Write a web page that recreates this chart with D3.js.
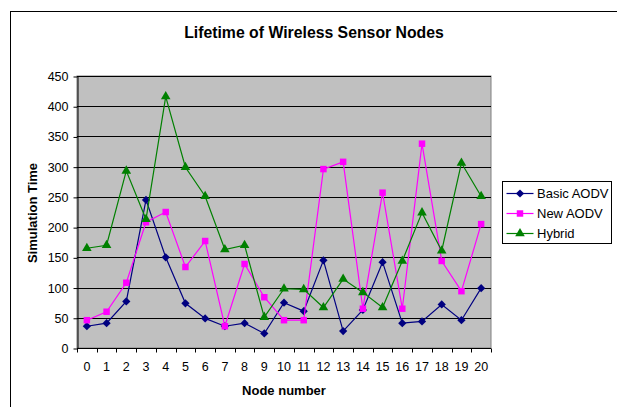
<!doctype html>
<html>
<head>
<meta charset="utf-8">
<script src="https://d3js.org/d3.v7.min.js"></script>
<style>
  body { margin: 0; background: #fff; }
  svg { display: block; font-family: Arial, "Liberation Sans", sans-serif; }
  .grid line { stroke: #000; stroke-width: 1px; }
  .axis text { font-size: 12.5px; fill: #000; }
  .axis line, .axis path { stroke: #000; }
</style>
</head>
<body>
<svg id="chart" width="617" height="407"></svg>
<script>
// node numbers on the x axis
var nodes = d3.range(0, 21);
var yTicks = [0, 50, 100, 150, 200, 250, 300, 350, 400, 450];

var basicAodv = [36, 41, 77, 245, 150, 74, 49, 36, 41, 24, 75, 61, 145, 28, 63, 142, 41, 44, 72, 46, 99];
var newAodv   = [46, 60, 108, 208, 225, 134, 177, 36, 139, 84, 46, 46, 296, 308, 65, 257, 65, 338, 144, 94, 205];
var hybrid    = [165, 170, 293, 213, 416, 299, 251, 163, 170, 51, 98, 97, 67, 114, 92, 67, 144, 224, 161, 306, 251];

// rot: square turned 45deg gives the diamond
var series = [
    {name: "Basic AODV", values: basicAodv, color: "#000080", shape: d3.symbolSquare,   size: 34, rot: 45},
    {name: "New AODV",   values: newAodv,   color: "#FF00FF", shape: d3.symbolSquare,   size: 42, rot: 0},
    {name: "Hybrid",     values: hybrid,    color: "#008000", shape: d3.symbolTriangle, size: 40, rot: 0}
];

var svg = d3.select("#chart");

// outer frame (right/bottom edges fall outside the picture)
svg.append("rect")
    .attr("x", 10.5).attr("y", 11.5)
    .attr("width", 700).attr("height", 500)
    .attr("fill", "none").attr("stroke", "#000");

var plotL = 77, plotR = 491, plotT = 76, plotB = 348;

var x = d3.scaleBand().domain(nodes).range([plotL, plotR]);
var y = d3.scaleLinear().domain([0, 450]).range([plotB, plotT]);

// plot area
svg.append("rect")
    .attr("x", plotL).attr("y", plotT)
    .attr("width", plotR - plotL).attr("height", plotB - plotT)
    .attr("fill", "#C0C0C0").attr("stroke", "#808080");

svg.append("g").attr("class", "grid")
    .selectAll("line")
    .data(yTicks.filter(function(d) { return d > 0; }))
    .enter().append("line")
    .attr("x1", plotL).attr("x2", plotR)
    .attr("y1", function(d) { return Math.round(y(d)) + 0.5; })
    .attr("y2", function(d) { return Math.round(y(d)) + 0.5; });

// y axis
svg.append("g").attr("class", "axis")
    .attr("transform", "translate(" + (plotL + 0.5) + ",0.5)")
    .call(d3.axisLeft(y).tickValues(yTicks).tickSize(4).tickPadding(5).tickSizeOuter(0));

// x axis: labels centred in bands, ticks at band edges
var xAxis = svg.append("g").attr("class", "axis")
    .attr("transform", "translate(0," + (plotB + 0.5) + ")")
    .call(d3.axisBottom(x).tickSize(0).tickPadding(14));
xAxis.select(".domain").remove();
xAxis.append("line").attr("x1", plotL).attr("x2", plotR).attr("stroke", "#000");
xAxis.selectAll(".edge")
    .data(d3.range(0, nodes.length + 1))
    .enter().append("line")
    .attr("class", "edge")
    .attr("x1", function(i) { return Math.round(plotL + i * x.step()) + 0.5; })
    .attr("x2", function(i) { return Math.round(plotL + i * x.step()) + 0.5; })
    .attr("y1", 0).attr("y2", 4)
    .attr("stroke", "#000");

var cx = function(d, i) { return x(nodes[i]) + x.bandwidth() / 2; };

var line = d3.line()
    .x(function(d, i) { return cx(d, i); })
    .y(function(d) { return y(d); });

series.forEach(function(s) {
    svg.append("path")
        .datum(s.values)
        .attr("d", line)
        .attr("fill", "none")
        .attr("stroke", s.color)
        .attr("stroke-width", 1.2);
    svg.append("g").selectAll("path")
        .data(s.values)
        .enter().append("path")
        .attr("transform", function(d, i) {
            return "translate(" + cx(d, i) + "," + y(d) + ") rotate(" + s.rot + ")";
        })
        .attr("d", d3.symbol().type(s.shape).size(s.size))
        .attr("fill", s.color);
});

// legend
var legend = svg.append("g").attr("transform", "translate(502.5,181.5)");
legend.append("rect")
    .attr("width", 109).attr("height", 62)
    .attr("fill", "#fff").attr("stroke", "#000");
series.forEach(function(s, i) {
    var row = legend.append("g").attr("transform", "translate(0," + (12 + i * 20) + ")");
    row.append("line").attr("x1", 4).attr("x2", 31).attr("stroke", s.color).attr("stroke-width", 1.2);
    row.append("path").attr("transform", "translate(17.5,0) rotate(" + s.rot + ")")
        .attr("d", d3.symbol().type(s.shape).size(s.size)).attr("fill", s.color);
    row.append("text").attr("x", 34.5).attr("dy", "0.35em")
        .style("font-size", "13px").text(s.name);
});

// titles
svg.append("text")
    .attr("x", 314).attr("y", 38)
    .attr("text-anchor", "middle")
    .style("font-size", "15.8px").style("font-weight", "bold")
    .text("Lifetime of Wireless Sensor Nodes");

svg.append("text")
    .attr("x", 284).attr("y", 395)
    .attr("text-anchor", "middle")
    .style("font-size", "13px").style("font-weight", "bold")
    .text("Node number");

svg.append("text")
    .attr("transform", "translate(37,213) rotate(-90)")
    .attr("text-anchor", "middle")
    .style("font-size", "13px").style("font-weight", "bold")
    .text("Simulation Time");
</script>
</body>
</html>
